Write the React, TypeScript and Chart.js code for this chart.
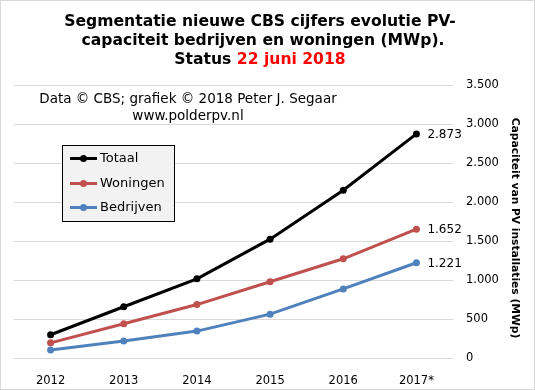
import React, { useEffect, useRef } from "react";
import { Chart, registerables } from "chart.js";

Chart.register(...registerables);

const years = ["2012", "2013", "2014", "2015", "2016", "2017*"];
const totaal = [298, 657, 1015, 1524, 2150, 2873];
const woningen = [194, 440, 685, 978, 1272, 1652];
const bedrijven = [104, 217, 345, 562, 886, 1221];

const titleLine1 = "Segmentatie nieuwe CBS cijfers evolutie PV-";
const titleLine2 = "capaciteit bedrijven en woningen (MWp).";
const titleLine3a = "Status ";
const titleLine3b = "22 juni 2018";
const credit1 = "Data © CBS; grafiek © 2018 Peter J. Segaar";
const credit2 = "www.polderpv.nl";
const yAxisTitle = "Capaciteit van PV installaties (MWp)";

const FONT = '"DejaVu Sans", Verdana, sans-serif';

const fmt = (v: number) => String(Math.round(v)).replace(/\B(?=(\d{3})+(?!\d))/g, ".");

const overlay = {
  id: "overlay",
  afterDraw(chart: any) {
    const ctx = chart.ctx as CanvasRenderingContext2D;
    ctx.save();
    // Title
    ctx.font = `bold 15.6px ${FONT}`;
    ctx.fillStyle = "#000";
    ctx.textBaseline = "alphabetic";
    ctx.textAlign = "center";
    ctx.fillText(titleLine1, 259, 25);
    ctx.fillText(titleLine2, 262, 44);
    const wa = ctx.measureText(titleLine3a).width;
    const wb = ctx.measureText(titleLine3b).width;
    const x0 = 259 - (wa + wb) / 2;
    ctx.textAlign = "left";
    ctx.fillText(titleLine3a, x0, 63);
    ctx.fillStyle = "#ff0000";
    ctx.fillText(titleLine3b, x0 + wa, 63);

    // Credit
    ctx.font = `13.5px ${FONT}`;
    ctx.fillStyle = "#000";
    ctx.textAlign = "center";
    ctx.fillText(credit1, 187, 102);
    ctx.fillText(credit2, 187, 119);

    // Y axis title (rotated, reading top to bottom)
    ctx.save();
    ctx.translate(514, 227);
    ctx.rotate(Math.PI / 2);
    ctx.font = `bold 10.7px ${FONT}`;
    ctx.textAlign = "center";
    ctx.textBaseline = "middle";
    ctx.fillStyle = "#000";
    ctx.fillText(yAxisTitle, 0, 0);
    ctx.restore();

    // Legend
    ctx.fillStyle = "#f2f2f2";
    ctx.fillRect(62, 145, 111, 75);
    ctx.strokeStyle = "#000";
    ctx.lineWidth = 1;
    ctx.strokeRect(61.5, 144.5, 112, 76);
    const ys = [157.5, 182.5, 206.5];
    chart.data.datasets.forEach((ds: any, i: number) => {
      const y = ys[i];
      ctx.strokeStyle = ds.borderColor;
      ctx.lineWidth = 3;
      ctx.beginPath();
      ctx.moveTo(69, y);
      ctx.lineTo(96, y);
      ctx.stroke();
      ctx.fillStyle = ds.borderColor;
      ctx.beginPath();
      ctx.arc(82.5, y, 3.5, 0, Math.PI * 2);
      ctx.fill();
      ctx.fillStyle = "#000";
      ctx.font = `13px ${FONT}`;
      ctx.textAlign = "left";
      ctx.textBaseline = "middle";
      ctx.fillText(ds.label, 99, y);
    });

    // Data labels at last point
    chart.data.datasets.forEach((ds: any, i: number) => {
      const meta = chart.getDatasetMeta(i);
      const n = ds.data.length - 1;
      const pt = meta.data[n];
      ctx.fillStyle = "#000";
      ctx.font = `12px ${FONT}`;
      ctx.textAlign = "left";
      ctx.textBaseline = "middle";
      ctx.fillText(fmt(ds.data[n]), pt.x + 11, pt.y + 1);
    });
    ctx.restore();
  },
};

export default function App() {
  const ref = useRef<HTMLCanvasElement>(null);
  useEffect(() => {
    document.body.style.margin = "0";
    const mk = (label: string, data: number[], color: string) => ({
      label,
      data,
      borderColor: color,
      backgroundColor: color,
      borderWidth: 3,
      pointRadius: 3.5,
      pointBackgroundColor: color,
      pointBorderColor: color,
      pointBorderWidth: 0,
      tension: 0,
    });
    const chart = new Chart(ref.current!, {
      type: "line",
      data: {
        labels: years,
        datasets: [
          mk("Totaal", totaal, "#000000"),
          mk("Woningen", woningen, "#c0504d"),
          mk("Bedrijven", bedrijven, "#4f81bd"),
        ],
      },
      options: {
        responsive: false,
        animation: false,
        layout: { padding: { left: 13, top: 84, right: 0, bottom: 0 } },
        plugins: { legend: { display: false }, title: { display: false }, tooltip: { enabled: false } },
        scales: {
          x: {
            offset: true,
            grid: { display: false },
            border: { display: false },
            ticks: { color: "#000", font: { family: FONT, size: 11.5 }, padding: 8 },
            afterFit: (s: any) => {
              s.height = 31;
            },
          },
          y: {
            position: "right",
            min: 0,
            max: 3500,
            grid: { color: "#d9d9d9", lineWidth: 1, drawTicks: false },
            border: { display: false },
            ticks: {
              stepSize: 500,
              color: "#000",
              font: { family: FONT, size: 11.5 },
              padding: 13,
              callback: (v: any) => fmt(Number(v)),
            },
            title: { display: false },
            afterFit: (s: any) => {
              s.width = 81;
            },
          },
        },
      },
      plugins: [overlay],
    } as any);
    return () => chart.destroy();
  }, []);
  return (
    <div
      style={{
        width: 535,
        height: 390,
        border: "1px solid #d9d9d9",
        boxSizing: "border-box",
        background: "#fff",
      }}
    >
      <canvas ref={ref} width={533} height={388} style={{ display: "block" }} />
    </div>
  );
}
